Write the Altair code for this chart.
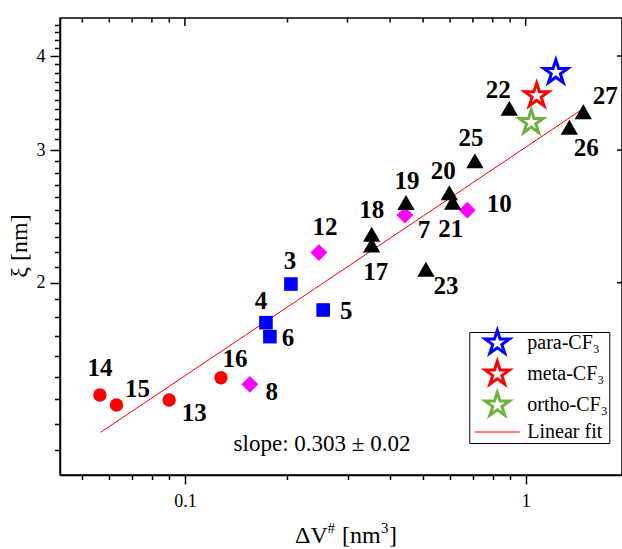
import altair as alt
import pandas as pd

# ---------------- data ----------------
circ_labels = ["14", "15", "13", "16"]
circ_x = [0.0563, 0.0630, 0.0899, 0.1276]
circ_y = [1.419, 1.376, 1.397, 1.496]

sq_labels = ["3", "4", "5", "6"]
sq_x = [0.2047, 0.1729, 0.2546, 0.1776]
sq_y = [1.992, 1.770, 1.840, 1.696]

dia_labels = ["7", "8", "10", "12"]
dia_x = [0.4422, 0.1551, 0.6739, 0.2473]
dia_y = [2.460, 1.466, 2.497, 2.193]

tri_labels = ["17", "18", "19", "20", "21", "22", "23", "25", "26", "27"]
tri_x = [0.3532, 0.3532, 0.4454, 0.5970, 0.6106, 0.8951, 0.5096, 0.7097, 1.343, 1.476]
tri_y = [2.244, 2.319, 2.555, 2.634, 2.557, 3.409, 2.084, 2.904, 3.217, 3.374]

star_series = ["para-CF₃", "meta-CF₃", "ortho-CF₃"]
star_x = [1.226, 1.077, 1.038]
star_y = [3.805, 3.544, 3.266]

fit_x = [0.0566, 1.470]
fit_y = [1.266, 3.402]

legend_domain = ["para-CF₃", "meta-CF₃", "ortho-CF₃", "Linear fit"]

x_ticks = [0.05, 0.06, 0.07, 0.08, 0.09, 0.1, 0.2, 0.3, 0.4, 0.5, 0.6, 0.7, 0.8, 0.9, 1]
x_major = [0.1, 1]
x_minor = [0.05, 0.06, 0.07, 0.08, 0.09, 0.2, 0.3, 0.4, 0.5, 0.6, 0.7, 0.8, 0.9]
y_ticks = [1.2, 1.3, 1.4, 1.5, 1.6, 1.7, 1.8, 1.9, 2, 2.1, 2.2, 2.3, 2.4, 2.5, 2.6, 2.7,
           2.8, 2.9, 3, 3.1, 3.2, 3.3, 3.4, 3.5, 3.6, 3.7, 3.8, 3.9, 4, 4.1, 4.2, 4.3, 4.4]
y_major = [2, 3, 4]

# label offsets (pixels) relative to each marker
label_offsets = {
    "14": (0, -27), "15": (21, -16), "13": (25, 13), "16": (14, -19), "8": (22, 8),
    "4": (-5, -22), "6": (18, 1), "3": (-1, -23), "5": (23, 1), "12": (6, -26),
    "18": (0, -24), "17": (4, 27), "19": (1, -22), "7": (19, 15), "21": (-2, 27),
    "23": (20, 17), "20": (-6, -22), "10": (32, -6), "25": (-4, -23), "22": (-11, -18),
    "27": (22, -16), "26": (17, 21),
}

STAR = ("M0,-1L0.2245,-0.309L0.9511,-0.309L0.3633,0.118L0.5878,0.809L0,0.382"
        "L-0.5878,0.809L-0.3633,0.118L-0.9511,-0.309L-0.2245,-0.309Z")
# horizontal line (the zero-length sub-paths only widen its bounding box)
LINE = "M-1.8,0L1.8,0M0,-0.6L0,-0.6M0,0.6L0,0.6"

SERIF = "Liberation Serif"
W, H = 562, 457

xscale = alt.Scale(type="log", domain=[0.043, 1.917], nice=False)
yscale = alt.Scale(type="log", domain=[1.111, 4.493], nice=False)

xaxis = alt.Axis(
    values=x_ticks, title=None, grid=False, format="~g",
    labelExpr="datum.value == 0.1 || datum.value == 1 ? datum.label : ''",
    tickSize={"condition": {"test": "datum.value == 0.1 || datum.value == 1", "value": 9}, "value": 4.5},
    labelPadding=8, labelFlush=False, labelOverlap=False,
)
yaxis = alt.Axis(
    values=y_ticks, title=None, grid=False, format="~g",
    labelExpr="datum.value == 2 || datum.value == 3 || datum.value == 4 ? datum.label : ''",
    tickSize={"condition": {"test": "datum.value == 2 || datum.value == 3 || datum.value == 4", "value": 10}, "value": 5.5},
    labelPadding=5, labelFlush=False, labelOverlap=False,
)


def X(field="x"):
    return alt.X(f"{field}:Q", scale=xscale, axis=xaxis)


def Y(field="y"):
    return alt.Y(f"{field}:Q", scale=yscale, axis=yaxis)


circ_df = pd.DataFrame({"label": circ_labels, "x": circ_x, "y": circ_y})
sq_df = pd.DataFrame({"label": sq_labels, "x": sq_x, "y": sq_y})
dia_df = pd.DataFrame({"label": dia_labels, "x": dia_x, "y": dia_y})
tri_df = pd.DataFrame({"label": tri_labels, "x": tri_x, "y": tri_y})
star_df = pd.DataFrame({"series": star_series, "x": star_x, "y": star_y})
fit_df = pd.DataFrame({"x": fit_x, "y": fit_y})

fit = alt.Chart(fit_df).mark_line(color="#ff0000", strokeWidth=1).encode(x=X(), y=Y())

circles = alt.Chart(circ_df).mark_point(shape="circle", filled=True, size=180, color="#ff0000", opacity=1).encode(x=X(), y=Y())
squares = alt.Chart(sq_df).mark_point(shape="square", filled=True, size=185, color="#0000ff", opacity=1).encode(x=X(), y=Y())
diamonds = alt.Chart(dia_df).mark_point(shape="diamond", filled=True, size=280, color="#ff00ff", opacity=1).encode(x=X(), y=Y())
triangles = alt.Chart(tri_df).mark_point(shape="triangle-up", filled=True, size=300, color="#000000", opacity=1).encode(x=X(), y=Y())

legend = alt.Legend(
    title=None, orient="none", legendX=409.3, legendY=314,
    strokeColor="black", fillColor="white", padding=1, rowPadding=-5,
    symbolSize=635, symbolStrokeWidth=alt.ExprRef("datum.value == 'Linear fit' ? 1 : 3"),
    symbolOffset=17, labelOffset=20,
    labelFont=SERIF, labelFontSize=20, labelColor="black", labelLimit=300,
)
stars = alt.Chart(star_df).mark_point(filled=False, size=635, strokeWidth=3, opacity=1).encode(
    x=X(), y=Y(),
    color=alt.Color("series:N", scale=alt.Scale(domain=legend_domain,
                                                range=["#0000ff", "#ff0000", "#6cb33e", "#ff0000"]),
                    legend=legend),
    shape=alt.Shape("series:N", scale=alt.Scale(domain=legend_domain, range=[STAR, STAR, STAR, LINE]),
                    legend=legend),
)

all_pts = pd.concat([circ_df, sq_df, dia_df, tri_df], ignore_index=True)
label_layers = []
for lbl, (dx, dy) in label_offsets.items():
    sub = all_pts[all_pts["label"] == lbl]
    label_layers.append(
        alt.Chart(sub).mark_text(font=SERIF, fontWeight="bold", fontSize=25, color="black",
                                 align="center", baseline="middle", dx=dx, dy=dy)
        .encode(x=X(), y=Y(), text="label:N")
    )

# inward ticks on the top and right frame
top_major = alt.Chart(pd.DataFrame({"x": x_major})).mark_rule(color="black", strokeWidth=1.5).encode(
    x=X(), y=alt.value(0), y2=alt.value(8))
top_minor = alt.Chart(pd.DataFrame({"x": x_minor})).mark_rule(color="black", strokeWidth=1.5).encode(
    x=X(), y=alt.value(0), y2=alt.value(4.5))
right_major = alt.Chart(pd.DataFrame({"y": y_major})).mark_rule(color="black", strokeWidth=1.5).encode(
    y=Y(), x=alt.value(W - 5), x2=alt.value(W))


def txt(s, x, y, size, align="left", baseline="alphabetic", angle=None, weight="normal"):
    kw = dict(font=SERIF, fontSize=size, color="black", align=align, baseline=baseline, fontWeight=weight)
    if angle is not None:
        kw["angle"] = angle
    return alt.Chart(pd.DataFrame({"t": [s]})).mark_text(**kw).encode(
        x=alt.value(x), y=alt.value(y), text="t:N")


slope = txt("slope: 0.303 ± 0.02", 262, 425.5, 23, align="center", baseline="middle")
xt1 = txt("ΔV", 235, 525, 24)
xt2 = txt("#", 267.5, 515, 15)
xt3 = txt("[nm", 282, 525, 24)
xt4 = txt("3", 321, 515, 15)
xt5 = txt("]", 329, 525, 24)
yt = txt("ξ [nm]", -40, 228, 24, align="center", baseline="middle", angle=270)

chart = alt.layer(
    fit, circles, squares, diamonds, triangles, stars, *label_layers,
    top_major, top_minor, right_major, slope, xt1, xt2, xt3, xt4, xt5, yt,
).properties(
    width=W, height=H,
    autosize=alt.AutoSizeParams(type="none"),
    padding={"left": 60, "top": 18, "right": 0, "bottom": 74},
).configure_view(
    stroke="black", strokeWidth=1.5,
).configure_axis(
    domainColor="black", domainWidth=1.5, tickColor="black", tickWidth=1.5,
    labelFont=SERIF, labelFontSize=18, labelColor="black",
).configure_legend(
    strokeWidth=1,
)

chart.save("out.html", embed_options={"renderer": "svg", "actions": False})
